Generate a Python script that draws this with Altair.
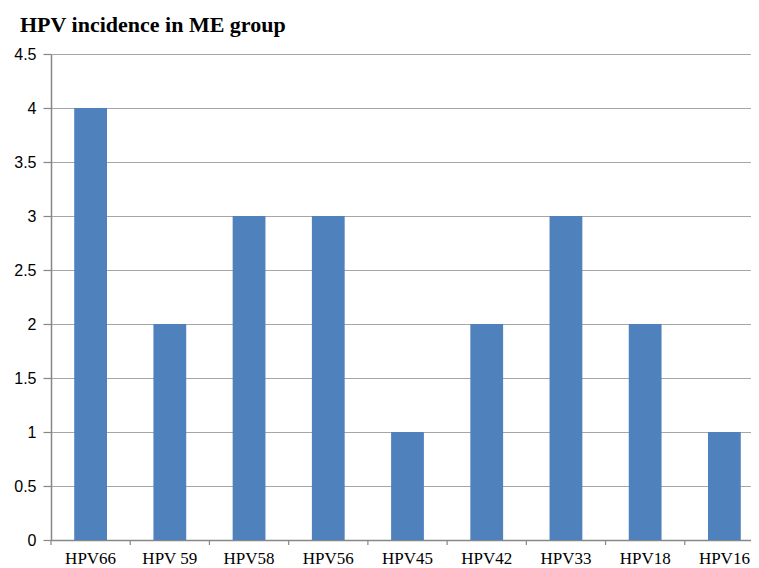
import altair as alt
import pandas as pd

categories = ["HPV66", "HPV 59", "HPV58", "HPV56", "HPV45", "HPV42", "HPV33", "HPV18", "HPV16"]
values = [4, 2, 3, 3, 1, 2, 3, 2, 1]
y_ticks = [0, 0.5, 1, 1.5, 2, 2.5, 3, 3.5, 4, 4.5]

df = pd.DataFrame({"cat": categories, "val": values})

W, H = 713, 486

bars = alt.Chart(df).mark_bar(color="#4F81BD").encode(
    x=alt.X("cat:N", sort=categories,
            scale=alt.Scale(paddingInner=0.586, paddingOuter=0.293),
            axis=alt.Axis(title=None, labelAngle=0, ticks=False, domain=True,
                          domainColor="#878787", domainWidth=1.5,
                          labelFont="Liberation Serif", labelFontSize=17,
                          labelColor="black", labelPadding=10)),
    y=alt.Y("val:Q", scale=alt.Scale(domain=[0, 4.5], nice=False),
            axis=alt.Axis(title=None, values=y_ticks, format=".1~f",
                          grid=True, gridColor="#A6A6A6", gridWidth=1.2,
                          domainColor="#878787", domainWidth=1.5,
                          tickColor="#878787", tickSize=8, tickWidth=1.2,
                          labelFont="Liberation Sans", labelFontSize=16,
                          labelColor="black", labelPadding=7)),
)

ticks = alt.Chart(df).mark_rule(color="#878787", strokeWidth=1.2).encode(
    x=alt.X("cat:N", sort=categories, bandPosition=0,
            scale=alt.Scale(paddingInner=0, paddingOuter=0),
            axis=None),
    y=alt.value(H),
    y2=alt.value(H + 5),
)

chart = alt.layer(bars, ticks).resolve_scale(x="independent").properties(
    width=W, height=H,
    autosize=alt.AutoSizeParams(type="none"),
    padding={"left": 43, "top": 46, "right": -13, "bottom": 28},
    title=alt.TitleParams("HPV incidence in ME group", anchor="start", frame="group",
                          dx=-31, font="Liberation Serif", fontSize=22, fontWeight="bold",
                          color="black", baseline="alphabetic", offset=-8),
).configure_view(stroke=None)

chart.save("out.html", embed_options={"renderer": "svg", "actions": False})
